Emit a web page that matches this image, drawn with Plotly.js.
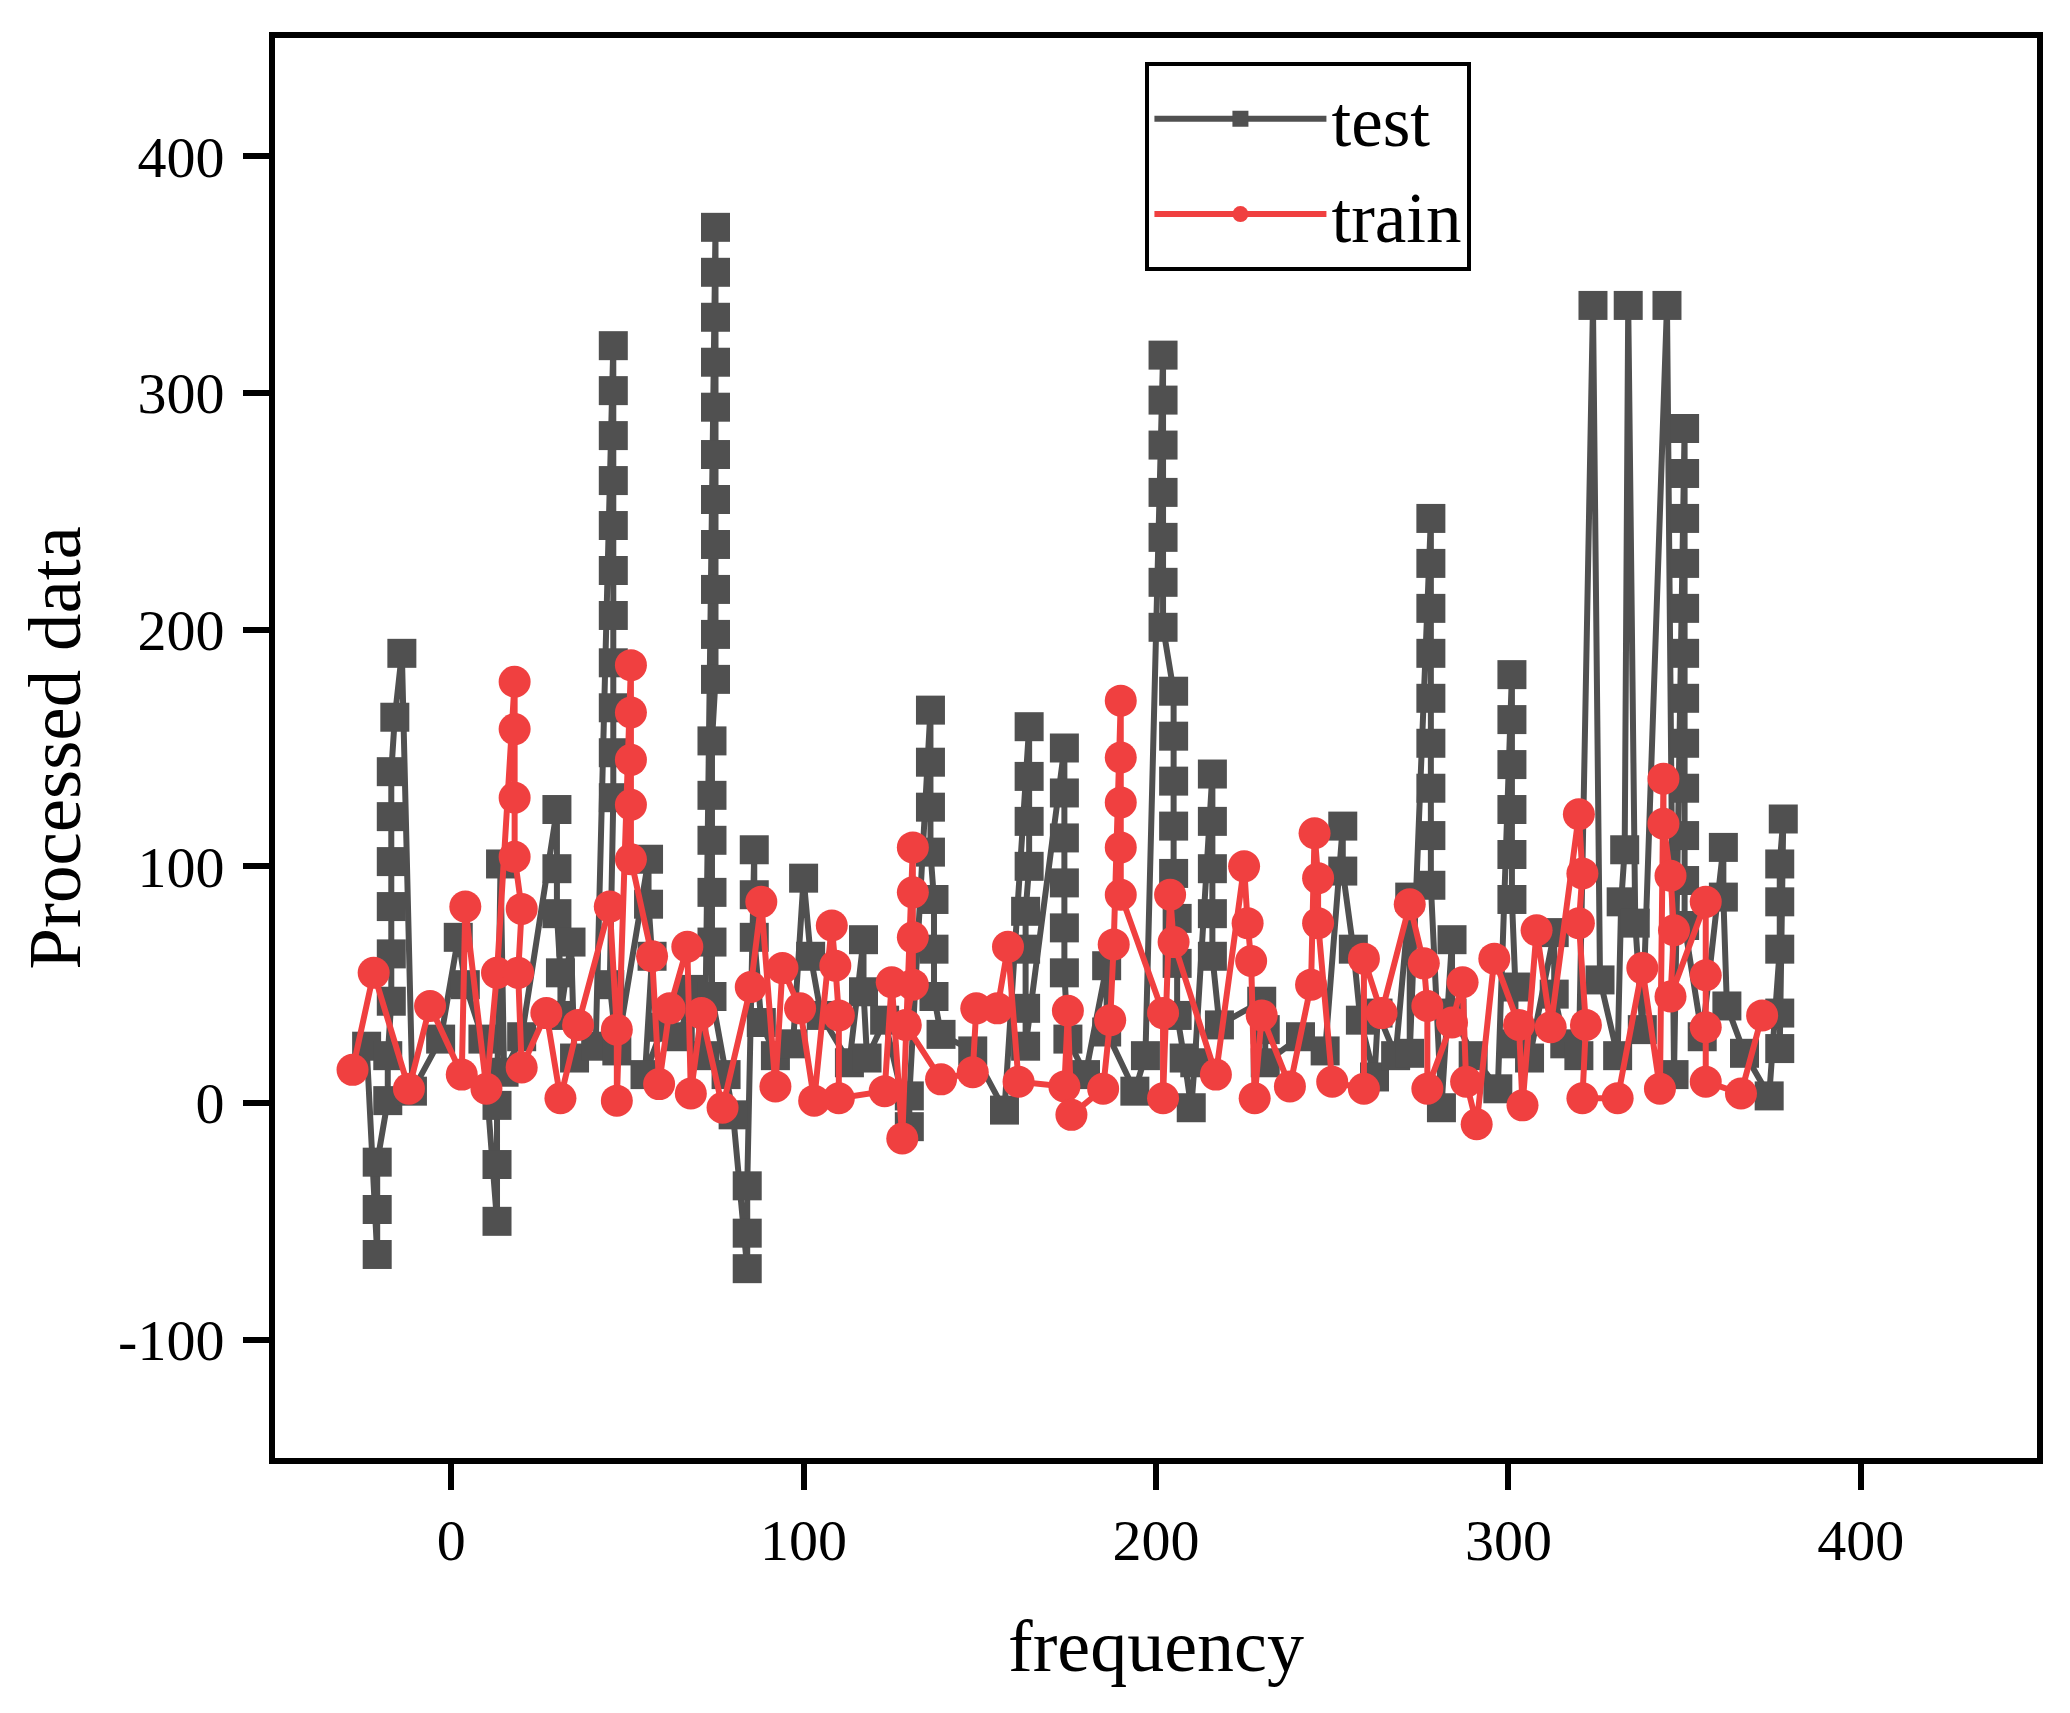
<!DOCTYPE html>
<html>
<head>
<meta charset="utf-8">
<script src="https://cdn.plot.ly/plotly-3.0.1.min.js"></script>
<style>
  body { margin: 0; background: #fff; }
  #chart { width: 2070px; height: 1713px; }
</style>
</head>
<body>
<div id="chart"></div>
<script>
// test series (gray squares)
var testX = [
  -24, -21, -21, -21, -18, -18, -17, -17, -17, -17, -17, -17, -16, -14, -11, -3,
  2, 4, 9, 13, 13, 13, 14, 15, 20, 30, 30, 30, 31, 31, 34, 35, 41,
  46, 46, 46, 46, 46, 46, 46, 46, 46, 46, 46, 45, 47,
  56, 56, 57, 55, 60, 65, 68, 72,
  75, 75, 75, 75, 75, 75, 75, 75, 75, 75, 75, 74, 74, 74, 74, 74, 74, 78, 80,
  84, 84, 84, 86, 86, 86, 88, 92, 97, 100, 102, 105, 113,
  117, 117, 118, 123, 130, 130,
  136, 136, 136, 136, 137, 137, 137, 139, 148, 157,
  164, 164, 164, 164, 163, 163, 163, 163,
  174, 174, 174, 174, 174, 174, 175, 180, 186, 186, 194, 197,
  202, 202, 202, 202, 202, 202, 202,
  205, 205, 205, 205, 205, 206, 206, 206, 208, 210, 211,
  216, 216, 216, 216, 216, 218, 230, 231, 231, 241, 248,
  253, 253, 256, 258, 262, 263, 268, 272, 272,
  278, 278, 278, 278, 278, 278, 278, 278, 278, 281, 284, 284, 290, 297,
  301, 301, 301, 301, 301, 301, 302, 302, 306, 313, 313, 316, 320,
  324, 326, 331, 332, 333, 334, 336, 338, 345, 347,
  350, 350, 350, 350, 350, 350, 350, 350, 350, 350, 350, 350, 355,
  361, 361, 362, 367, 374, 377, 377, 377, 378, 377, 377
];
var testY = [
  24, -64, -45, -25, 1, 20, 43, 63, 83, 102, 121, 140, 163, 190, 5, 27,
  70, 50, 27, -50, -26, -1, 101, 13, 28, 124, 99, 80, 55, 37, 68, 19, 24,
  320, 301, 282, 263, 244, 225, 206, 186, 167, 148, 129, 50, 22,
  103, 84, 62, 12, 32, 28, 48, 20,
  370, 351, 332, 313, 294, 274, 255, 236, 217, 198, 179, 153, 130, 111, 89, 68, 45, 12, -5,
  -70, -55, -35, 107, 88, 70, 34, 20, 25, 95, 62, 37, 17,
  69, 47, 19, 35, -10, 3,
  166, 144, 125, 106, 86, 65, 45, 29, 22, -3,
  159, 138, 119, 100, 81, 65, 40, 24,
  150, 131, 112, 93, 74, 55, 27, 12, 58, 30, 5, 20,
  316, 297, 278, 258, 239, 220, 201,
  174, 155, 136, 117, 97, 78, 59, 37, 19, -2, 17,
  139, 119, 99, 80, 62, 33, 43, 31, 17, 28, 22,
  117, 98, 65, 35, 11, 38, 20, 87, 21,
  247, 228, 209, 190, 171, 152, 133, 113, 92, -2, 69, 38, 20, 6,
  181, 162, 143, 124, 105, 86, 49, 25, 19, 72, 46, 25, 20,
  337, 52, 20, 85, 107, 337, 76, 31, 337, 12,
  285, 266, 247, 228, 209, 190, 171, 152, 133, 113, 94, 75, 28,
  108, 87, 41, 21, 3, 65, 85, 101, 120, 38, 23
];

// train series (red circles)
var trainX = [
  -28, -22, -12, -6, 3, 4, 10, 13, 18, 18, 18, 18, 20, 19, 20, 27, 31, 36,
  45, 47, 47, 51, 51, 51, 51, 51, 57, 59, 62, 67, 68, 71, 77,
  85, 88, 92, 94, 99, 103, 108, 109, 110, 110,
  123, 125, 128, 131, 131, 131, 131, 129, 139, 148, 149, 155, 158, 161,
  174, 175, 176, 185, 187, 188, 190, 190, 190, 190, 190,
  202, 202, 204, 205, 217, 225, 226, 227, 228, 230, 238,
  244, 245, 246, 246, 250, 259, 259, 264, 272, 276, 277, 277,
  284, 287, 288, 291, 296, 303, 304, 308, 312,
  320, 321, 320, 322, 321, 331, 338, 343, 344, 344, 346, 347, 346,
  356, 356, 356, 356, 366, 372
];
var trainY = [
  14, 55, 6, 41, 12, 83, 6, 55, 178, 158, 129, 104, 82, 55, 15, 38, 2, 33,
  83, 31, 1, 185, 165, 145, 126, 103, 62, 8, 40, 66, 4, 38, -2,
  49, 85, 7, 57, 40, 1, 75, 58, 37, 2,
  5, 51, -15, 108, 89, 70, 50, 33, 10, 13, 40, 40, 66, 9,
  7, 39, -5, 6, 35, 67, 170, 146, 127, 108, 88,
  38, 2, 88, 68, 12, 100, 76, 60, 2, 37, 7,
  50, 114, 95, 76, 9, 6, 61, 38, 84, 59, 41, 6,
  34, 51, 9, -9, 61, 33, -1, 73, 32,
  122, 97, 76, 33, 2, 2, 57, 6, 137, 118, 96, 73, 45,
  85, 54, 32, 9, 4, 37
];

var yTicks = [-100, 0, 100, 200, 300, 400];
var yTickText = ['-100', '0', '100', '200', '300', '400'];

var serif = 'Liberation Serif, Times New Roman, serif';

var test = {
  x: testX,
  y: testY,
  name: 'test',
  type: 'scatter',
  mode: 'lines+markers',
  line: { color: '#505050', width: 6 },
  marker: { symbol: 'square', size: 29, color: '#505050' }
};

var train = {
  x: trainX,
  y: trainY,
  name: 'train',
  type: 'scatter',
  mode: 'lines+markers',
  line: { color: '#F04040', width: 6 },
  marker: { symbol: 'circle', size: 32, color: '#F04040' }
};

// cadre noir + ticks vers l'extérieur, pas de grille
var axisCommon = {
  showgrid: false,
  zeroline: false,
  showline: true,
  mirror: true,
  linecolor: '#000',
  linewidth: 6,
  ticks: 'outside',
  ticklen: 26,
  tickwidth: 6,
  tickcolor: '#000',
  tickfont: { family: serif, size: 58, color: '#000' }
};

var layout = {
  width: 2070,
  height: 1713,
  margin: { l: 275, r: 33, t: 38, b: 255 },
  paper_bgcolor: '#fff',
  plot_bgcolor: '#fff',
  font: { family: serif, color: '#000' },
  xaxis: Object.assign({}, axisCommon, {
    range: [-50, 450],
    dtick: 100,
    tick0: 0,
    ticklabelstandoff: 0,
    title: { text: 'frequency', font: { family: serif, size: 74, color: '#000' }, standoff: 50 }
  }),
  yaxis: Object.assign({}, axisCommon, {
    range: [-150, 450],
    tickmode: 'array',
    tickvals: yTicks,
    ticktext: yTickText,
    ticklabelstandoff: 7,
    title: { text: 'Processed data', font: { family: serif, size: 75, color: '#000' }, standoff: 15 }
  }),
  showlegend: true,
  legend: {
    x: 0.494,
    y: 0.983,
    xanchor: 'left',
    yanchor: 'top',
    bgcolor: '#fff',
    bordercolor: '#000',
    borderwidth: 4,
    itemwidth: 172,
    font: { family: serif, size: 71, color: '#000' }
  }
};

Plotly.newPlot('chart', [test, train], layout, { displayModeBar: false, staticPlot: true });
</script>
</body>
</html>
